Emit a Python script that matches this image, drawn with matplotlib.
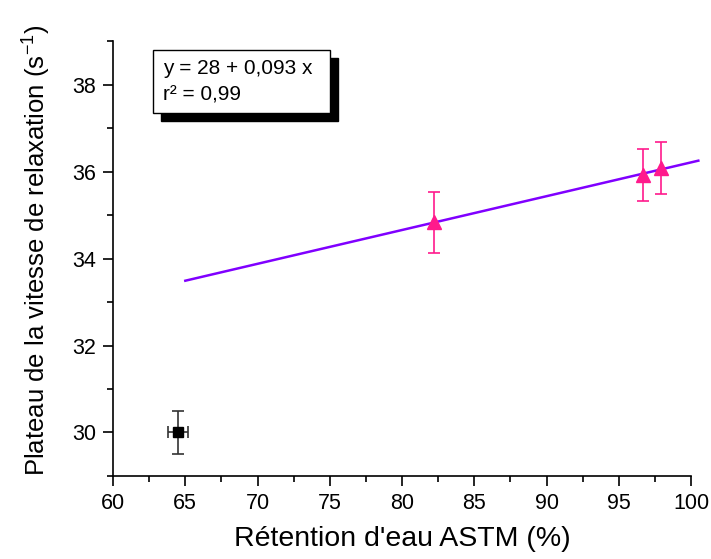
import numpy as np
from matplotlib import pyplot as plt
from matplotlib.patches import Rectangle
from matplotlib.ticker import MultipleLocator

plt.rcParams['font.family'] = ['Liberation Sans', 'DejaVu Sans']

# reference point (black square)
ref_x = [64.5]
ref_y = [30.0]
ref_xerr = [0.72]
ref_yerr = [0.5]

# samples (pink triangles)
samp_x = [82.2, 96.7, 97.9]
samp_y = [34.83, 35.92, 36.08]
samp_yerr = [0.70, 0.60, 0.60]

# fitted line range
fit_range = [65.0, 100.5]
fit_text = "y = 28 + 0,093 x\nr² = 0,99"

fig = plt.figure(figsize=(7.11, 5.59), dpi=100)
ax = fig.add_axes([0.159, 0.1485, 0.813, 0.778])

coef = np.polyfit(samp_x, samp_y, 1)
xs = np.array(fit_range)
ax.plot(xs, np.polyval(coef, xs), color='#8000ff', lw=1.8, zorder=2, clip_on=False)

ax.errorbar(samp_x, samp_y, yerr=samp_yerr, fmt='^', color='#ff1a8c',
            ms=10, capsize=4, elinewidth=1.2, capthick=1.2, zorder=3)
ax.errorbar(ref_x, ref_y, xerr=ref_xerr, yerr=ref_yerr, fmt='s', color='black',
            ecolor='#333333', ms=7, capsize=4, elinewidth=1.2, capthick=1.2, zorder=3)

ax.set_xlim(60, 100)
ax.set_ylim(29, 39)
ax.xaxis.set_major_locator(MultipleLocator(5))
ax.xaxis.set_minor_locator(MultipleLocator(2.5))
ax.yaxis.set_major_locator(MultipleLocator(2))
ax.yaxis.set_minor_locator(MultipleLocator(1))
ax.tick_params(which='major', direction='out', length=7, width=1.2, labelsize=15.5, pad=5)
ax.tick_params(which='minor', direction='out', length=4, width=1.2)
for s in ['top', 'right']:
    ax.spines[s].set_visible(False)
for s in ['left', 'bottom']:
    ax.spines[s].set_linewidth(1.2)

ax.set_xlabel("Rétention d'eau ASTM (%)", fontsize=20.5, labelpad=9)
ax.set_ylabel("Plateau de la vitesse de relaxation (s$^{\\mathregular{-1}}$)", fontsize=18.5)
ax.yaxis.set_label_coords(-0.105, 0.52)

# equation box with drop shadow
bx0, bx1 = 0.069, 0.375
by0, by1 = 0.834, 0.979
ax.add_patch(Rectangle((bx0 + 0.014, by0 - 0.018), bx1 - bx0, by1 - by0, transform=ax.transAxes,
                       fc='black', ec='black', zorder=4, clip_on=False))
ax.add_patch(Rectangle((bx0, by0), bx1 - bx0, by1 - by0, transform=ax.transAxes,
                       fc='white', ec='black', lw=1.0, zorder=5, clip_on=False))
ax.text(bx0 + 0.017, (by0 + by1) / 2, fit_text, transform=ax.transAxes, fontsize=15,
        va='center', ha='left', linespacing=1.45, zorder=6)

fig.savefig('out.png', dpi=100)
